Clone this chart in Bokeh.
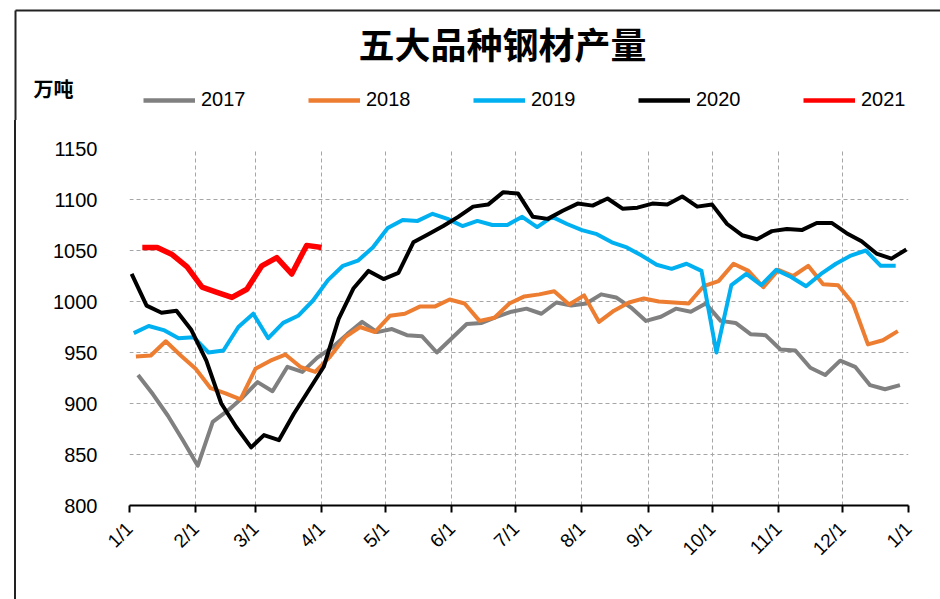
import datetime as dt
import numpy as np
from bokeh.plotting import figure
from bokeh.models import (FixedTicker, Legend, LegendItem, Range1d, ColumnDataSource)
from bokeh.core.properties import value
from bokeh.embed import file_html
from bokeh.resources import INLINE

# ---------------- data ----------------
years = ["2017", "2018", "2019", "2020", "2021"]
first_dates = ["2017-01-05", "2018-01-04", "2019-01-03", "2020-01-02", "2021-01-07"]

v2017 = [928, 909, 888, 864, 839, 882, 893, 906, 921, 912,
         936, 931, 945, 955, 968, 980, 970, 973, 967, 966,
         950, 964, 978, 979, 985, 990, 993, 988, 999, 996,
         998, 1007, 1004, 994, 981, 985, 993, 990, 998, 981,
         979, 968, 967, 953, 952, 935, 928, 942, 936, 918,
         914, 918]
v2018 = [946, 947, 961, 947, 934, 915, 910, 904, 934, 942,
         948, 936, 931, 946, 965, 975, 970, 986, 988, 995,
         995, 1002, 998, 981, 984, 998, 1005, 1007, 1010, 997,
         1006, 980, 991, 999, 1003, 1000, 999, 998, 1015, 1020,
         1037, 1030, 1014, 1031, 1025, 1035, 1017, 1016, 998, 958,
         962, 971]
v2019 = [969, 976, 972, 964, 965, 950, 952, 975, 988, 964,
         979, 986, 1001, 1021, 1035, 1040, 1053, 1072, 1080, 1079,
         1086, 1081, 1074, 1079, 1075, 1075, 1083, 1073, 1083, 1076,
         1070, 1066, 1058, 1053, 1045, 1036, 1032, 1037, 1030, 950,
         1016, 1027, 1016, 1031, 1024, 1015, 1027, 1037, 1045, 1050,
         1035, 1035]
v2020 = [1027, 996, 989, 991, 972, 942, 900, 877, 857, 869,
         864, 890, 913, 936, 983, 1013, 1030, 1022, 1028, 1058,
         1066, 1074, 1083, 1093, 1095, 1107, 1106, 1083, 1081, 1089,
         1096, 1094, 1101, 1091, 1092, 1096, 1095, 1103, 1093, 1095,
         1076, 1065, 1061, 1069, 1071, 1070, 1077, 1077, 1067, 1059,
         1047, 1042, 1051]
v2021 = [1053, 1053, 1046, 1034, 1014, 1009, 1004, 1012, 1035, 1043,
         1027, 1055, 1053]

series = [v2017, v2018, v2019, v2020, v2021]
colors = ["#808080", "#ED7D31", "#00B0F0", "#000000", "#FF0000"]
widths = [4, 4, 4, 4, 5.5]

month_ticks = [0, 31, 59, 90, 120, 151, 181, 212, 243, 273, 304, 334, 365]
month_labels = ["1/1", "2/1", "3/1", "4/1", "5/1", "6/1", "7/1", "8/1",
                "9/1", "10/1", "11/1", "12/1", "1/1"]
y_ticks = [800, 850, 900, 950, 1000, 1050, 1100, 1150]

title_text = "五大品种钢材产量"
unit_text = "万吨"

BORDER = "#222222"


def day_positions(first, n):
    d0 = dt.date.fromisoformat(first)
    out = []
    for i in range(n):
        d = d0 + dt.timedelta(days=7 * i)
        if d.year > d0.year:
            out.append(365 + d.day - 1)
        else:
            out.append(month_ticks[d.month - 1] + d.day - 1)
    return out


sources = [ColumnDataSource(dict(x=day_positions(f, len(v)), y=v))
           for f, v in zip(first_dates, series)]

# ---------------- header figure (title, unit, legend) ----------------
TOP_H = 120
top = figure(width=940, height=TOP_H, output_backend="svg", toolbar_location=None,
             x_range=Range1d(0, 940), y_range=Range1d(TOP_H, 0),
             x_axis_type=None, y_axis_type=None,
             min_border=0, min_border_left=0, min_border_right=0,
             min_border_top=0, min_border_bottom=0,
             background_fill_color="white", border_fill_color="white")
top.outline_line_color = None
top.grid.visible = False

top.text(x=[502], y=[42], text=[title_text], text_font=value("Noto Sans CJK SC"),
         text_font_style="bold", text_font_size="36px", text_align="center",
         text_baseline="middle", text_color="black")
top.text(x=[33], y=[88], text=[unit_text], text_font=value("Noto Sans CJK SC"),
         text_font_style="bold", text_font_size="20px", text_align="left",
         text_baseline="middle", text_color="black")

# frame border (top and left edges)
top.segment(x0=[15, 15], y0=[10, 10], x1=[940, 15], y1=[10, TOP_H],
            line_color=BORDER, line_width=2)

# legend: the series are also drawn here (outside this header's visible range)
items = []
for yr, src, c in zip(years, sources, colors):
    r = top.line("x", "y", source=src, line_color=c, line_width=4.5)
    items.append(LegendItem(label=yr, renderers=[r]))
legend = Legend(items=items, orientation="horizontal", location=(143, TOP_H - 111),
                glyph_width=52, glyph_height=20, label_standoff=6,
                label_width=107, spacing=0, padding=0, margin=0,
                border_line_alpha=0, background_fill_alpha=0,
                label_text_font="Liberation Sans", label_text_font_size="20px",
                label_text_color="black")
top.add_layout(legend)

# ---------------- main chart ----------------
MAIN_H = 599 - TOP_H
p = figure(width=940, height=MAIN_H, output_backend="svg", toolbar_location=None,
           x_range=Range1d(0, 365), y_range=Range1d(800, 1150),
           min_border_left=129, min_border_right=32,
           min_border_top=148 - TOP_H, min_border_bottom=94,
           background_fill_color="white", border_fill_color=None,
           styles={"background-image": f"linear-gradient({BORDER}, {BORDER})",
                   "background-size": "2px 100%",
                   "background-position": "14px 0px",
                   "background-repeat": "no-repeat",
                   "background-color": "white"})
p.outline_line_color = None

for src, c, w in zip(sources, colors, widths):
    p.line("x", "y", source=src, line_color=c, line_width=w, line_join="round")

# axes
p.xaxis.ticker = FixedTicker(ticks=month_ticks)
p.xaxis.major_label_overrides = {t: l for t, l in zip(month_ticks, month_labels)}
p.xaxis.major_label_orientation = np.pi / 4
p.xaxis.axis_line_color = "black"
p.xaxis.axis_line_width = 2
p.xaxis.major_tick_line_color = "black"
p.xaxis.major_tick_line_width = 2
p.xaxis.major_tick_out = 7
p.xaxis.major_tick_in = 0
p.xaxis.minor_tick_line_color = None
p.xaxis.major_label_text_font = "Liberation Sans"
p.xaxis.major_label_text_font_size = "19px"
p.xaxis.major_label_text_color = "black"
p.xaxis.major_label_standoff = 13

p.yaxis.ticker = FixedTicker(ticks=y_ticks)
p.yaxis.axis_line_color = None
p.yaxis.major_tick_line_color = None
p.yaxis.minor_tick_line_color = None
p.yaxis.major_tick_out = 0
p.yaxis.major_label_standoff = 32
p.yaxis.major_label_text_font = "Liberation Sans"
p.yaxis.major_label_text_font_size = "20px"
p.yaxis.major_label_text_color = "black"

p.xgrid.ticker = FixedTicker(ticks=month_ticks)
p.ygrid.ticker = FixedTicker(ticks=y_ticks)
for g in (p.xgrid, p.ygrid):
    g.grid_line_color = "#A6A6A6"
    g.grid_line_dash = "4 3"
    g.grid_line_width = 1

open("out.html", "w").write(file_html([top, p], INLINE))
